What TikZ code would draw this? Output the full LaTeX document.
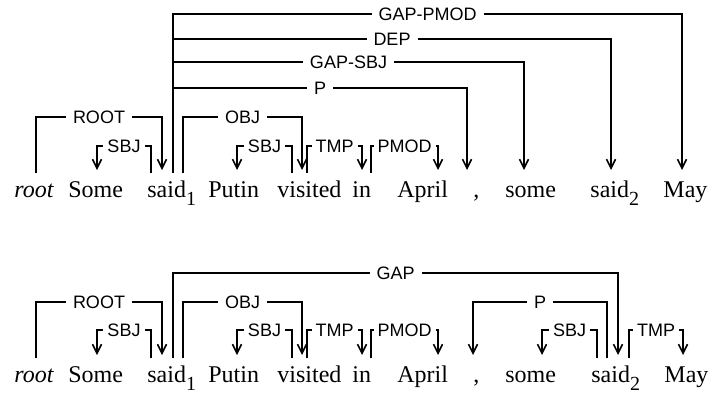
\documentclass[tikz,border=0pt]{standalone}
\usepackage{fontspec}
\setmainfont{Liberation Serif}
\setsansfont{Liberation Sans}
\usetikzlibrary{arrows.meta}
\tikzset{
  word/.style={anchor=base west,inner sep=0pt,font=\fontsize{12}{12}\selectfont},
  dep/.style={line width=0.8pt,-{Straight Barb[length=4.5pt,width=4.5pt]}},
  lab/.style={fill=white,inner sep=0pt,inner xsep=3.5pt,font=\sffamily\fontsize{9}{9}\selectfont},
  narrow/.style={inner xsep=2pt}
}
\newcommand{\Arc}[5][]{%
  \draw[dep] (#2) -- (#2 |- #4) -- node[lab,#1]{#5} (#3 |- #4) -- (#3);}
\newcommand{\idx}[1]{\raisebox{-4pt}{\fontsize{10}{10}\selectfont #1}}

\begin{document}
\begin{tikzpicture}[x=0.5pt,y=-0.5pt]
    \useasboundingbox (0,0) rectangle (710,392);

    % levels
    \coordinate (a1) at (0,14);
    \coordinate (a2) at (0,39);
    \coordinate (a3) at (0,62);
    \coordinate (a4) at (0,88);
    \coordinate (a5) at (0,117);
    \coordinate (a6) at (0,146);
    \coordinate (b1) at (0,273);
    \coordinate (b2) at (0,302);
    \coordinate (b3) at (0,330);

    % upper sentence
    \node[word] (rootA) at (14,197) {\textit{root}};
    \node[word] (SomeA) at (68,197) {Some};
    \node[word] (said1A) at (147,197) {said\idx{1}};
    \node[word] (PutinA) at (208,197) {Putin};
    \node[word] (visitedA) at (277,197) {visited};
    \node[word] (inA) at (352,197) {in};
    \node[word] (AprilA) at (397,197) {April};
    \node[word] (commaA) at (473,197) {,};
    \node[word] (someA) at (505,197) {some};
    \node[word] (said2A) at (590,197) {said\idx{2}};
    \node[word] (MayA) at (663,197) {May};

    \coordinate (rootAh) at (36,173);
    \coordinate (SomeAd) at (97,170);
    \coordinate (said1As) at (151,173);
    \coordinate (said1Ad) at (162,170);
    \coordinate (said1Ah) at (173,173);
    \coordinate (said1Ao) at (183,173);
    \coordinate (PutinAd) at (237,170);
    \coordinate (visitedAs) at (292,173);
    \coordinate (visitedAd) at (302,170);
    \coordinate (visitedAt) at (307,173);
    \coordinate (inAd) at (362,170);
    \coordinate (inAh) at (371,173);
    \coordinate (AprilAd) at (438,170);
    \coordinate (commaAd) at (467,170);
    \coordinate (someAd) at (524,170);
    \coordinate (said2Ad) at (611,170);
    \coordinate (MayAd) at (682,170);

    \Arc{rootAh}{said1Ad}{a5}{ROOT}
    \Arc[narrow]{said1As}{SomeAd}{a6}{SBJ}
    \Arc{said1Ah}{MayAd}{a1}{GAP-PMOD}
    \Arc{said1Ah}{said2Ad}{a2}{DEP}
    \Arc{said1Ah}{someAd}{a3}{GAP-SBJ}
    \Arc{said1Ah}{commaAd}{a4}{P}
    \Arc{said1Ao}{visitedAd}{a5}{OBJ}
    \Arc[narrow]{visitedAs}{PutinAd}{a6}{SBJ}
    \Arc[narrow]{visitedAt}{inAd}{a6}{TMP}
    \Arc[narrow]{inAh}{AprilAd}{a6}{PMOD}

    % lower sentence
    \node[word] (rootB) at (14,382) {\textit{root}};
    \node[word] (SomeB) at (68,382) {Some};
    \node[word] (said1B) at (147,382) {said\idx{1}};
    \node[word] (PutinB) at (208,382) {Putin};
    \node[word] (visitedB) at (277,382) {visited};
    \node[word] (inB) at (352,382) {in};
    \node[word] (AprilB) at (397,382) {April};
    \node[word] (commaB) at (473,382) {,};
    \node[word] (someB) at (505,382) {some};
    \node[word] (said2B) at (591,382) {said\idx{2}};
    \node[word] (MayB) at (664,382) {May};

    \coordinate (rootBh) at (36,358);
    \coordinate (SomeBd) at (97,355);
    \coordinate (said1Bs) at (151,358);
    \coordinate (said1Bd) at (162,355);
    \coordinate (said1Bh) at (173,358);
    \coordinate (said1Bo) at (183,358);
    \coordinate (PutinBd) at (237,355);
    \coordinate (visitedBs) at (292,358);
    \coordinate (visitedBd) at (302,355);
    \coordinate (visitedBt) at (307,358);
    \coordinate (inBd) at (362,355);
    \coordinate (inBh) at (371,358);
    \coordinate (AprilBd) at (438,355);
    \coordinate (commaBd) at (473,355);
    \coordinate (someBd) at (542,355);
    \coordinate (said2Bs) at (597,358);
    \coordinate (said2Bp) at (607,358);
    \coordinate (said2Bg) at (618,355);
    \coordinate (said2Bt) at (629,358);
    \coordinate (MayBd) at (683,355);

    \Arc{rootBh}{said1Bd}{b2}{ROOT}
    \Arc[narrow]{said1Bs}{SomeBd}{b3}{SBJ}
    \Arc{said1Bh}{said2Bg}{b1}{GAP}
    \Arc{said1Bo}{visitedBd}{b2}{OBJ}
    \Arc[narrow]{visitedBs}{PutinBd}{b3}{SBJ}
    \Arc[narrow]{visitedBt}{inBd}{b3}{TMP}
    \Arc[narrow]{inBh}{AprilBd}{b3}{PMOD}
    \Arc{said2Bp}{commaBd}{b2}{P}
    \Arc[narrow]{said2Bs}{someBd}{b3}{SBJ}
    \Arc[narrow]{said2Bt}{MayBd}{b3}{TMP}
  \end{tikzpicture}
\end{document}
